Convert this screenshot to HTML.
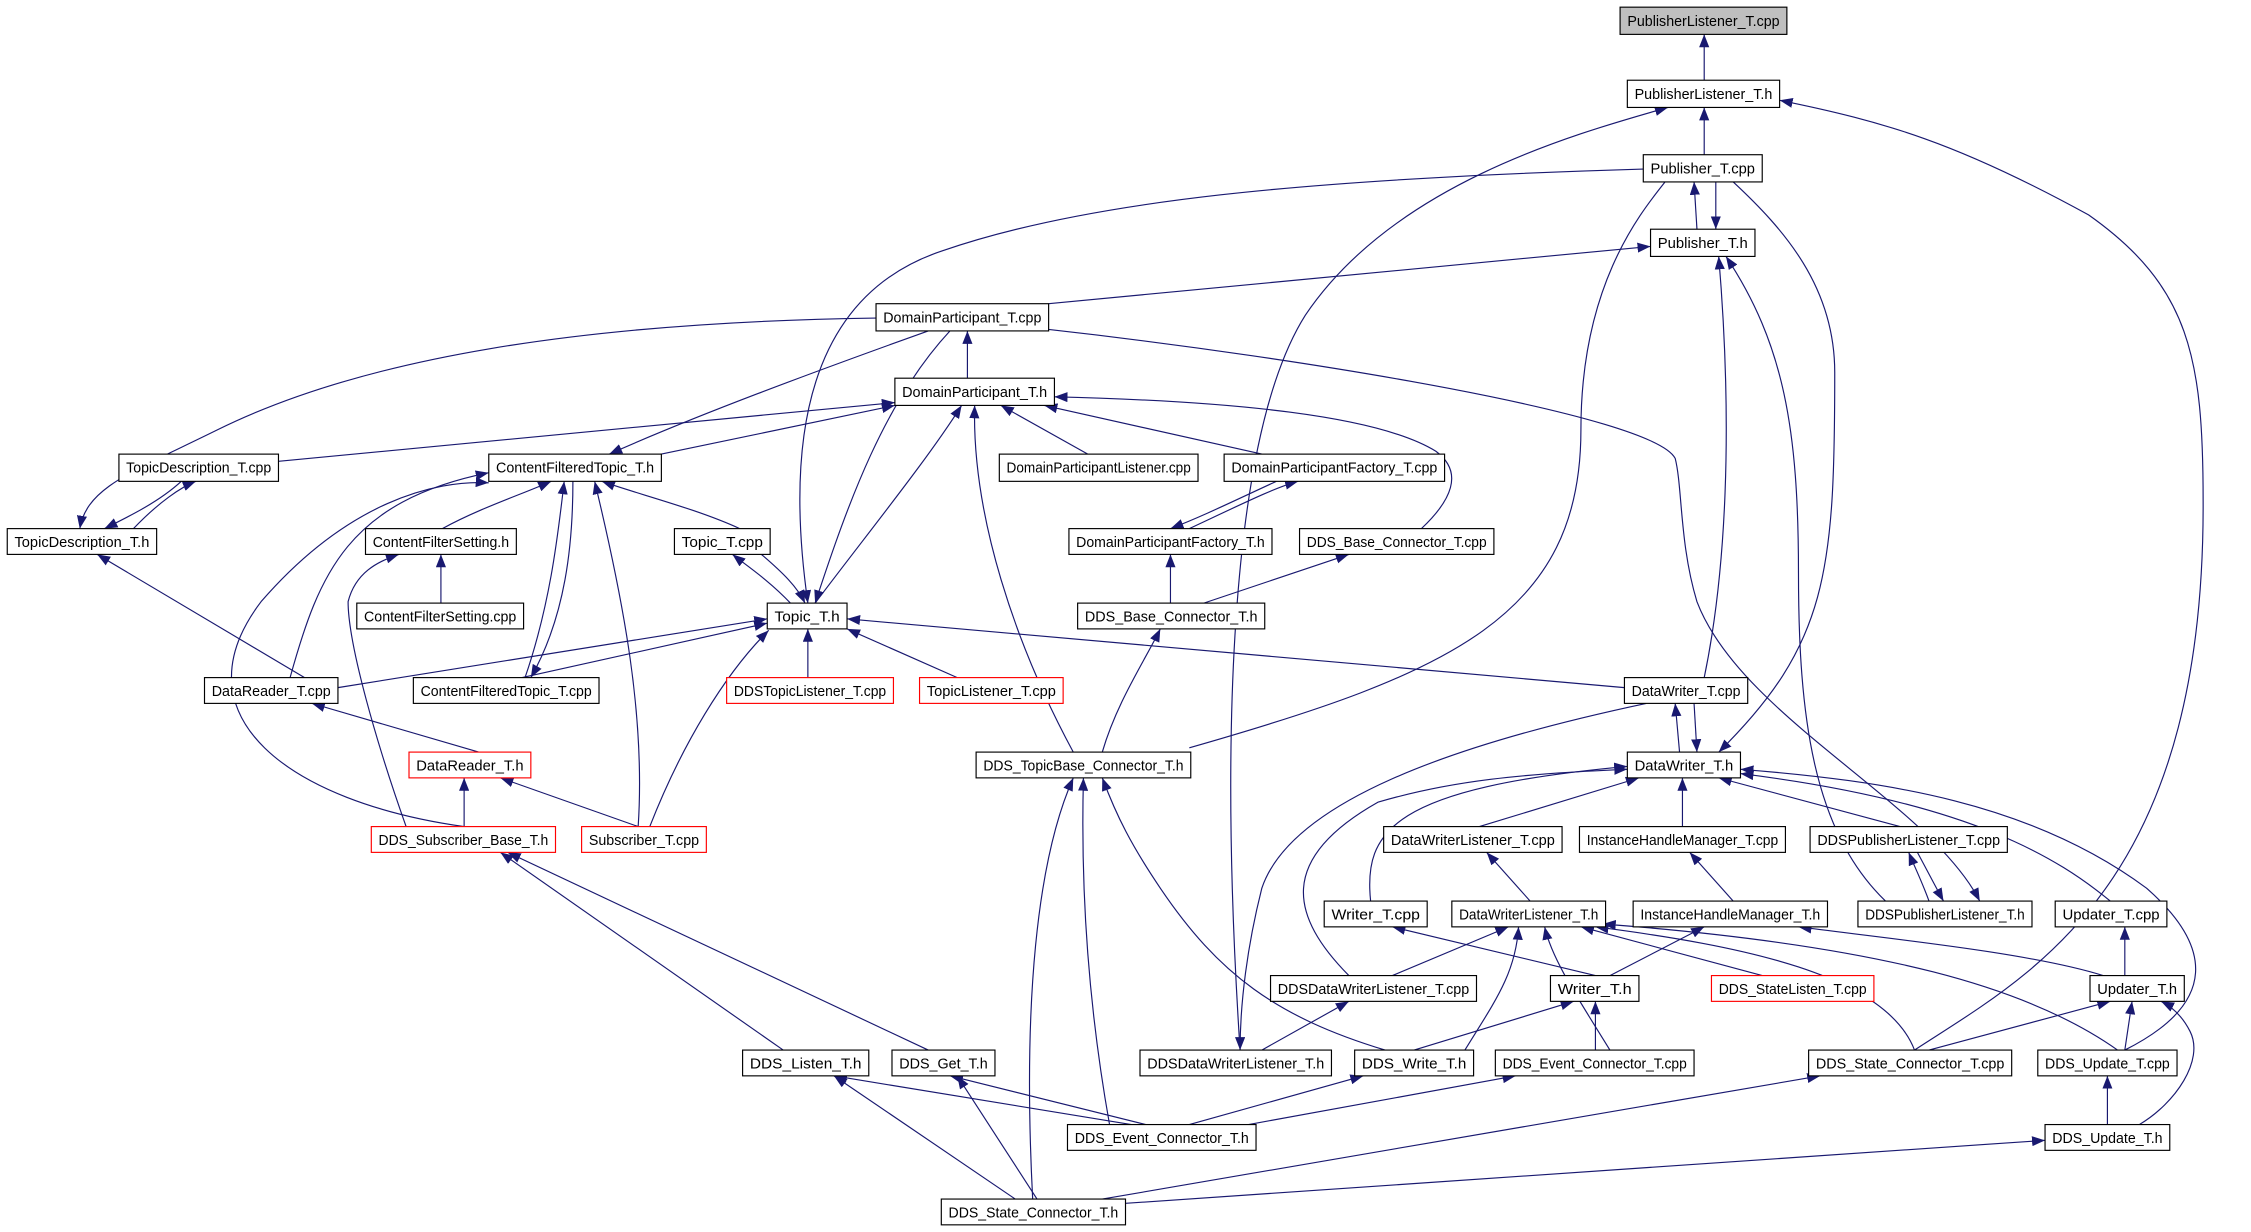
<!DOCTYPE html>
<html><head><meta charset="utf-8"><style>
html,body{margin:0;padding:0;background:#fff;}
svg{display:block;}
text{font-family:"Liberation Sans",sans-serif;font-size:10px;fill:#000;}
.e{fill:none;stroke:#191970;stroke-width:0.8;}
.n{fill:#fff;stroke:#000;stroke-width:0.8;}
.r{fill:#fff;stroke:#ff0000;stroke-width:0.8;}
</style></head><body>
<svg width="2251" height="1232" viewBox="0 0 1552 860" preserveAspectRatio="none" xmlns="http://www.w3.org/2000/svg">
<defs><marker id="a" markerWidth="9" markerHeight="7" refX="9" refY="3.5" orient="auto" markerUnits="userSpaceOnUse"><path d="M0,0 L9,3.5 L0,7 z" fill="#191970"/></marker></defs>
<g class="e" marker-end="url(#a)">
<path d="M1175,56 L1175,24"/>
<path d="M1175,108 L1175,75"/>
<path d="M1170,160 L1168,127"/>
<path d="M1183,127 L1183,160"/>
<path d="M723,212 L1138,172"/>
<path d="M855,733 C840,500 850,300 900,220 C960,130 1080,95 1150,75"/>
<path d="M1320,733 C1400,680 1520,620 1519,350 C1519,250 1510,200 1440,150 C1350,100 1300,85 1227,70"/>
<path d="M1133,118 C900,125 750,140 650,175 C560,205 540,300 557,421"/>
<path d="M1195,127 C1230,160 1265,200 1265,260 C1265,400 1260,450 1185,525"/>
<path d="M1175,473 C1190,400 1195,300 1185,179"/>
<path d="M1300,629 C1250,580 1240,500 1240,400 C1240,300 1230,240 1190,179"/>
<path d="M604,222 C400,225 250,250 150,300 C90,330 60,340 55,369"/>
<path d="M640,231 C560,260 480,290 420,317"/>
<path d="M655,231 C610,280 585,350 562,421"/>
<path d="M667,264 L667,231"/>
<path d="M723,230 C900,250 1140,290 1155,320 C1160,340 1158,380 1170,420 C1200,500 1330,560 1365,629"/>
<path d="M192,322 L617,281"/>
<path d="M456,317 L617,283"/>
<path d="M750,317 L690,283"/>
<path d="M870,317 L720,283"/>
<path d="M980,369 C1000,350 1010,330 990,315 C950,290 850,280 727,277"/>
<path d="M562,421 C600,370 640,320 663,283"/>
<path d="M740,525 C700,450 670,360 672,283"/>
<path d="M92,369 C110,350 125,340 135,336"/>
<path d="M125,336 C110,350 90,360 72,369"/>
<path d="M305,369 C330,355 360,345 380,336"/>
<path d="M510,369 C480,355 440,345 415,336"/>
<path d="M362,473 C380,420 385,370 389,336"/>
<path d="M395,336 C395,380 390,430 366,473"/>
<path d="M440,577 C445,500 430,420 410,336"/>
<path d="M200,473 C220,400 240,350 337,330"/>
<path d="M320,577 C200,560 120,500 180,420 C240,350 300,335 337,337"/>
<path d="M820,369 C860,350 880,340 895,336"/>
<path d="M880,336 C850,350 830,360 807,369"/>
<path d="M304,421 L304,387"/>
<path d="M280,577 C260,520 240,450 240,420 C245,400 260,392 275,387"/>
<path d="M545,421 C530,405 515,395 505,387"/>
<path d="M525,387 C540,400 550,410 555,421"/>
<path d="M807,421 L807,387"/>
<path d="M830,421 L930,387"/>
<path d="M210,473 L67,387"/>
<path d="M233,480 L529,432"/>
<path d="M360,473 L529,435"/>
<path d="M557,473 L557,439"/>
<path d="M660,473 L584,439"/>
<path d="M1120,480 L584,432"/>
<path d="M448,577 C470,520 500,470 530,440"/>
<path d="M760,525 C770,490 790,460 800,439"/>
<path d="M330,525 L215,491"/>
<path d="M320,577 L320,543"/>
<path d="M440,577 L345,543"/>
<path d="M1158,525 L1155,491"/>
<path d="M1168,491 L1170,525"/>
<path d="M1135,491 C1000,520 890,560 870,620 C860,660 855,700 855,733"/>
<path d="M1020,577 L1130,543"/>
<path d="M1160,577 L1160,543"/>
<path d="M1310,577 L1185,543"/>
<path d="M945,629 C940,580 960,550 1122,535"/>
<path d="M930,681 C890,640 880,600 950,560 C1000,545 1050,540 1122,537"/>
<path d="M1455,629 C1420,600 1360,560 1200,540"/>
<path d="M1465,733 C1530,700 1525,660 1480,620 C1400,560 1300,545 1200,537"/>
<path d="M1055,629 L1025,595"/>
<path d="M1195,629 L1165,595"/>
<path d="M1330,629 C1325,615 1320,605 1316,595"/>
<path d="M1322,595 C1330,610 1335,620 1340,629"/>
<path d="M1465,681 L1465,647"/>
<path d="M1100,681 L960,647"/>
<path d="M1110,681 L1175,647"/>
<path d="M1450,681 C1400,665 1300,655 1240,647"/>
<path d="M960,681 L1040,647"/>
<path d="M1010,733 C1030,700 1045,680 1047,647"/>
<path d="M1110,733 C1090,700 1070,670 1065,647"/>
<path d="M1215,681 L1090,647"/>
<path d="M1320,733 C1300,680 1200,660 1100,647"/>
<path d="M1460,733 C1400,690 1300,660 1105,645"/>
<path d="M870,733 L930,699"/>
<path d="M975,733 L1085,699"/>
<path d="M1100,733 L1100,699"/>
<path d="M1330,733 L1455,699"/>
<path d="M1465,733 L1470,699"/>
<path d="M1475,785 C1500,770 1520,740 1510,720 C1505,710 1498,703 1490,699"/>
<path d="M540,733 L345,595"/>
<path d="M640,733 L350,595"/>
<path d="M780,785 L575,751"/>
<path d="M790,785 L655,751"/>
<path d="M765,785 C750,700 745,620 747,543"/>
<path d="M820,785 L940,751"/>
<path d="M850,787 L1045,751"/>
<path d="M700,837 L575,751"/>
<path d="M715,837 L660,751"/>
<path d="M712,837 C705,700 715,600 740,543"/>
<path d="M760,837 L1255,751"/>
<path d="M776,840 L1410,796"/>
<path d="M1453,785 L1453,751"/>
<path d="M955,733 C880,710 840,680 800,620 C780,590 770,570 760,543"/>
</g>
<path class="e" d="M820,522 C1000,470 1090,430 1090,300 C1090,200 1130,150 1148,127"/>
<g>
<rect x="1117" y="5" width="115" height="19" fill="#bfbfbf" stroke="#000" stroke-width="0.8"/>
<rect class="n" x="1122" y="56" width="105" height="19"/>
<rect class="n" x="1133" y="108" width="82" height="19"/>
<rect class="n" x="1138" y="160" width="72" height="19"/>
<rect class="n" x="604" y="212" width="119" height="19"/>
<rect class="n" x="617" y="264" width="110" height="19"/>
<rect class="n" x="82" y="317" width="110" height="19"/>
<rect class="n" x="337" y="317" width="119" height="19"/>
<rect class="n" x="689" y="317" width="137" height="19"/>
<rect class="n" x="844" y="317" width="152" height="19"/>
<rect class="n" x="5" y="369" width="103" height="18"/>
<rect class="n" x="252" y="369" width="104" height="18"/>
<rect class="n" x="465" y="369" width="66" height="18"/>
<rect class="n" x="737" y="369" width="140" height="18"/>
<rect class="n" x="896" y="369" width="134" height="18"/>
<rect class="n" x="246" y="421" width="115" height="18"/>
<rect class="n" x="529" y="421" width="55" height="18"/>
<rect class="n" x="743" y="421" width="129" height="18"/>
<rect class="n" x="141" y="473" width="92" height="18"/>
<rect class="n" x="285" y="473" width="128" height="18"/>
<rect class="r" x="501" y="473" width="115" height="18"/>
<rect class="r" x="634" y="473" width="99" height="18"/>
<rect class="n" x="1120" y="473" width="85" height="18"/>
<rect class="r" x="282" y="525" width="84" height="18"/>
<rect class="n" x="673" y="525" width="148" height="18"/>
<rect class="n" x="1122" y="525" width="78" height="18"/>
<rect class="r" x="256" y="577" width="127" height="18"/>
<rect class="r" x="401" y="577" width="86" height="18"/>
<rect class="n" x="954" y="577" width="123" height="18"/>
<rect class="n" x="1089" y="577" width="142" height="18"/>
<rect class="n" x="1248" y="577" width="136" height="18"/>
<rect class="n" x="913" y="629" width="71" height="18"/>
<rect class="n" x="1001" y="629" width="106" height="18"/>
<rect class="n" x="1126" y="629" width="134" height="18"/>
<rect class="n" x="1281" y="629" width="120" height="18"/>
<rect class="n" x="1417" y="629" width="77" height="18"/>
<rect class="n" x="876" y="681" width="142" height="18"/>
<rect class="n" x="1069" y="681" width="61" height="18"/>
<rect class="r" x="1180" y="681" width="112" height="18"/>
<rect class="n" x="1441" y="681" width="65" height="18"/>
<rect class="n" x="512" y="733" width="87" height="18"/>
<rect class="n" x="615" y="733" width="71" height="18"/>
<rect class="n" x="786" y="733" width="132" height="18"/>
<rect class="n" x="934" y="733" width="82" height="18"/>
<rect class="n" x="1031" y="733" width="137" height="18"/>
<rect class="n" x="1247" y="733" width="140" height="18"/>
<rect class="n" x="1405" y="733" width="96" height="18"/>
<rect class="n" x="736" y="785" width="130" height="18"/>
<rect class="n" x="1410" y="785" width="86" height="18"/>
<rect class="n" x="649" y="837" width="127" height="18"/>
</g>
<g text-anchor="middle" lengthAdjust="spacingAndGlyphs">
<text x="1174.5" y="18" textLength="105" lengthAdjust="spacingAndGlyphs">PublisherListener_T.cpp</text>
<text x="1174.5" y="69" textLength="95" lengthAdjust="spacingAndGlyphs">PublisherListener_T.h</text>
<text x="1174" y="121" textLength="72" lengthAdjust="spacingAndGlyphs">Publisher_T.cpp</text>
<text x="1174" y="173" textLength="62" lengthAdjust="spacingAndGlyphs">Publisher_T.h</text>
<text x="663.5" y="225" textLength="109" lengthAdjust="spacingAndGlyphs">DomainParticipant_T.cpp</text>
<text x="672" y="277" textLength="100" lengthAdjust="spacingAndGlyphs">DomainParticipant_T.h</text>
<text x="137" y="330" textLength="100" lengthAdjust="spacingAndGlyphs">TopicDescription_T.cpp</text>
<text x="396.5" y="330" textLength="109" lengthAdjust="spacingAndGlyphs">ContentFilteredTopic_T.h</text>
<text x="757.5" y="330" textLength="127" lengthAdjust="spacingAndGlyphs">DomainParticipantListener.cpp</text>
<text x="920" y="330" textLength="142" lengthAdjust="spacingAndGlyphs">DomainParticipantFactory_T.cpp</text>
<text x="56.5" y="382" textLength="93" lengthAdjust="spacingAndGlyphs">TopicDescription_T.h</text>
<text x="304" y="382" textLength="94" lengthAdjust="spacingAndGlyphs">ContentFilterSetting.h</text>
<text x="498" y="382" textLength="56" lengthAdjust="spacingAndGlyphs">Topic_T.cpp</text>
<text x="807" y="382" textLength="130" lengthAdjust="spacingAndGlyphs">DomainParticipantFactory_T.h</text>
<text x="963" y="382" textLength="124" lengthAdjust="spacingAndGlyphs">DDS_Base_Connector_T.cpp</text>
<text x="303.5" y="434" textLength="105" lengthAdjust="spacingAndGlyphs">ContentFilterSetting.cpp</text>
<text x="556.5" y="434" textLength="45" lengthAdjust="spacingAndGlyphs">Topic_T.h</text>
<text x="807.5" y="434" textLength="119" lengthAdjust="spacingAndGlyphs">DDS_Base_Connector_T.h</text>
<text x="187" y="486" textLength="82" lengthAdjust="spacingAndGlyphs">DataReader_T.cpp</text>
<text x="349" y="486" textLength="118" lengthAdjust="spacingAndGlyphs">ContentFilteredTopic_T.cpp</text>
<text x="558.5" y="486" textLength="105" lengthAdjust="spacingAndGlyphs">DDSTopicListener_T.cpp</text>
<text x="683.5" y="486" textLength="89" lengthAdjust="spacingAndGlyphs">TopicListener_T.cpp</text>
<text x="1162.5" y="486" textLength="75" lengthAdjust="spacingAndGlyphs">DataWriter_T.cpp</text>
<text x="324" y="538" textLength="74" lengthAdjust="spacingAndGlyphs">DataReader_T.h</text>
<text x="747" y="538" textLength="138" lengthAdjust="spacingAndGlyphs">DDS_TopicBase_Connector_T.h</text>
<text x="1161" y="538" textLength="68" lengthAdjust="spacingAndGlyphs">DataWriter_T.h</text>
<text x="319.5" y="590" textLength="117" lengthAdjust="spacingAndGlyphs">DDS_Subscriber_Base_T.h</text>
<text x="444" y="590" textLength="76" lengthAdjust="spacingAndGlyphs">Subscriber_T.cpp</text>
<text x="1015.5" y="590" textLength="113" lengthAdjust="spacingAndGlyphs">DataWriterListener_T.cpp</text>
<text x="1160" y="590" textLength="132" lengthAdjust="spacingAndGlyphs">InstanceHandleManager_T.cpp</text>
<text x="1316" y="590" textLength="126" lengthAdjust="spacingAndGlyphs">DDSPublisherListener_T.cpp</text>
<text x="948.5" y="642" textLength="61" lengthAdjust="spacingAndGlyphs">Writer_T.cpp</text>
<text x="1054" y="642" textLength="96" lengthAdjust="spacingAndGlyphs">DataWriterListener_T.h</text>
<text x="1193" y="642" textLength="124" lengthAdjust="spacingAndGlyphs">InstanceHandleManager_T.h</text>
<text x="1341" y="642" textLength="110" lengthAdjust="spacingAndGlyphs">DDSPublisherListener_T.h</text>
<text x="1455.5" y="642" textLength="67" lengthAdjust="spacingAndGlyphs">Updater_T.cpp</text>
<text x="947" y="694" textLength="132" lengthAdjust="spacingAndGlyphs">DDSDataWriterListener_T.cpp</text>
<text x="1099.5" y="694" textLength="51" lengthAdjust="spacingAndGlyphs">Writer_T.h</text>
<text x="1236" y="694" textLength="102" lengthAdjust="spacingAndGlyphs">DDS_StateListen_T.cpp</text>
<text x="1473.5" y="694" textLength="55" lengthAdjust="spacingAndGlyphs">Updater_T.h</text>
<text x="555.5" y="746" textLength="77" lengthAdjust="spacingAndGlyphs">DDS_Listen_T.h</text>
<text x="650.5" y="746" textLength="61" lengthAdjust="spacingAndGlyphs">DDS_Get_T.h</text>
<text x="852" y="746" textLength="122" lengthAdjust="spacingAndGlyphs">DDSDataWriterListener_T.h</text>
<text x="975" y="746" textLength="72" lengthAdjust="spacingAndGlyphs">DDS_Write_T.h</text>
<text x="1099.5" y="746" textLength="127" lengthAdjust="spacingAndGlyphs">DDS_Event_Connector_T.cpp</text>
<text x="1317" y="746" textLength="130" lengthAdjust="spacingAndGlyphs">DDS_State_Connector_T.cpp</text>
<text x="1453" y="746" textLength="86" lengthAdjust="spacingAndGlyphs">DDS_Update_T.cpp</text>
<text x="801" y="798" textLength="120" lengthAdjust="spacingAndGlyphs">DDS_Event_Connector_T.h</text>
<text x="1453" y="798" textLength="76" lengthAdjust="spacingAndGlyphs">DDS_Update_T.h</text>
<text x="712.5" y="850" textLength="117" lengthAdjust="spacingAndGlyphs">DDS_State_Connector_T.h</text>
</g>
</svg>
</body></html>
